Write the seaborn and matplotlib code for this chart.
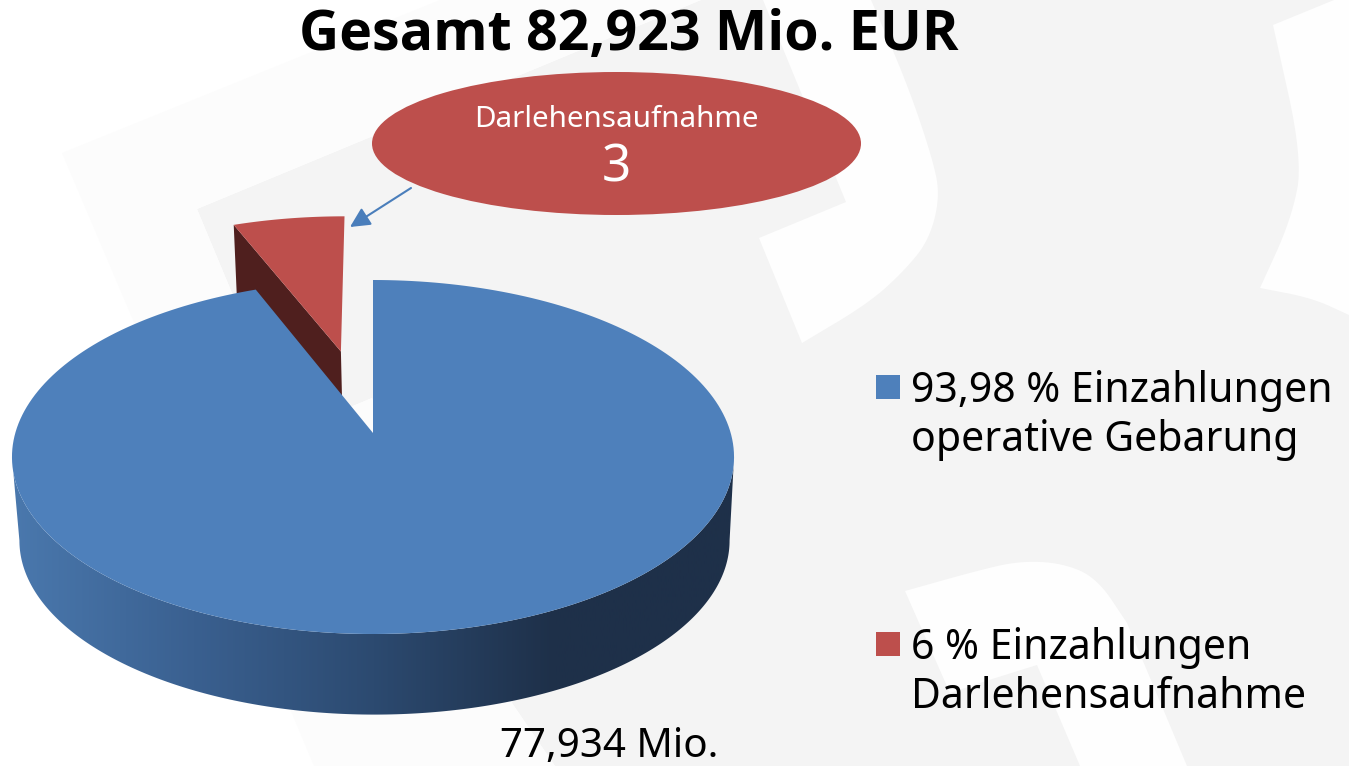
#!/usr/bin/env python
import matplotlib
matplotlib.use("Agg")
import matplotlib.pyplot as plt
import numpy as np
import seaborn as sns
from matplotlib.patches import Ellipse, Polygon, Rectangle

title = "Gesamt 82,923 Mio. EUR"
categories = ["93,98 % Einzahlungen\noperative Gebarung", "6 % Einzahlungen\nDarlehensaufnahme"]
values = [77.934, 4.989]
explode = [0, 0.51]
bottom_label = "77,934 Mio."
callout_name = "Darlehensaufnahme"
callout_value = "3"

# look of the tilted pie, in pixels
PERSP = 0.1356
TOP = dict(s=357.7, d=173.75, y0=433, cx=373)
BOTTOM = dict(s=351.8, d=170.8, y0=517, cx=374.5)

GRAY = "#f4f4f4"
BLUE = "#4e80bb"
RED = "#bd4f4c"
DARK_RED = "#4f1f1e"


def smooth(points, rounds=3):
    pts = np.asarray(points, dtype=float)
    for _ in range(rounds):
        q = 0.75 * pts[:-1] + 0.25 * pts[1:]
        r = 0.25 * pts[:-1] + 0.75 * pts[1:]
        mid = np.empty((len(q) * 2, 2))
        mid[0::2], mid[1::2] = q, r
        pts = np.r_[pts[:1], mid, pts[-1:]]
    return [tuple(p) for p in pts]


# watermark shapes behind the chart
PALE = [(62, 153), (440, 0), (701, 0), (197, 209), (232, 293), (290, 432), (372, 398), (512, 703),
        (555, 766), (314, 766), (293, 716), (133, 320)]
WHITE_LEFT = [(0, 0), (701, 0), (197, 209), (232, 293), (290, 432), (372, 398), (512, 703),
              (555, 766), (0, 766)]
WHITE_TOP = [(763, 0)] + smooth([(871, 0), (907, 83), (933, 160), (940, 197), (929, 240),
                                 (905, 270), (869, 303), (802, 343)]) + [(759, 238), (846, 202)]
WHITE_RIGHT = [(1334, 0)] + smooth([(1273, 25), (1303, 160), (1291, 220), (1260, 288)]) \
    + smooth([(1260, 288), (1312, 298), (1349, 315)]) + [(1349, 0)]
WHITE_BOTTOM = [(950, 693), (989, 680), (1037, 665), (1080, 766), (1187, 766)] \
    + smooth([(1127, 623), (1097, 578), (1062, 563), (1019, 561), (976, 571), (905, 591)])


def project(x, y, s, d, y0, cx):
    w = 1 + PERSP * np.asarray(y)
    return cx + s * np.asarray(x) / w, y0 - d * np.asarray(y) / w


def arc(center, theta1, theta2, n=240):
    t = np.radians(np.linspace(theta1, theta2, n))
    return center[0] + np.cos(t), center[1] + np.sin(t)


def wedge_outline(wedge, view):
    x, y = arc(wedge.center, wedge.theta1, wedge.theta2)
    x = np.r_[wedge.center[0], x]
    y = np.r_[wedge.center[1], y]
    return np.column_stack(project(x, y, **view))


sns.set_theme(style="white")
plt.rcParams["font.family"] = ["Noto Sans", "DejaVu Sans"]
side_cmap = sns.blend_palette(["#4a78ad", "#3a6090", "#2c4a70", "#1e3049", "#1e3049"], as_cmap=True)

fig = plt.figure(figsize=(13.49, 7.66), dpi=100)
ax = fig.add_axes([0, 0, 1, 1])

wedges, _ = ax.pie(values, explode=explode, startangle=90, counterclock=False, radius=1)
for w in wedges:
    w.set_visible(False)
blue_wedge, red_wedge = wedges

ax.set_aspect("auto")
ax.set_axis_off()

ax.add_patch(Rectangle((0, 0), 1349, 766, color=GRAY, lw=0, zorder=0))
ax.add_patch(Polygon(WHITE_LEFT, color="white", lw=0, zorder=0.1))
ax.add_patch(Polygon(PALE, color="#fcfcfc", lw=0, zorder=0.2))
for shape in (WHITE_TOP, WHITE_RIGHT, WHITE_BOTTOM):
    ax.add_patch(Polygon(shape, color="#fefefe", lw=0, zorder=0.1))

# red slice: inner cut face first, top on it
cx, cy = red_wedge.center
ox, oy = arc(red_wedge.center, red_wedge.theta2, red_wedge.theta2, n=1)
edge_x, edge_y = [cx, ox[0]], [cy, oy[0]]
face_top = np.column_stack(project(edge_x, edge_y, **TOP))
face_bottom = np.column_stack(project(edge_x, edge_y, **BOTTOM))
ax.add_patch(Polygon(np.r_[face_top, face_bottom[::-1]], color=DARK_RED, lw=0, zorder=2))
ax.add_patch(Polygon(wedge_outline(red_wedge, TOP), color=RED, lw=0, zorder=3))

# blue rim with the left-right shading
lim = np.degrees(np.arcsin(PERSP))
rim_x, rim_y = arc((0, 0), 180 + lim, 360 - lim)
rim = np.r_[np.column_stack(project(rim_x, rim_y, **TOP)),
            np.column_stack(project(rim_x, rim_y, **BOTTOM))[::-1]]
rim_patch = Polygon(rim, color="none", lw=0)
ax.add_patch(rim_patch)
shade = ax.imshow(np.linspace(0, 1, 256)[None, :], cmap=side_cmap, aspect="auto",
                  extent=(13, 735, 766, 0), zorder=4)
shade.set_clip_path(rim_patch)
ax.set_xlim(0, 1349)
ax.set_ylim(766, 0)

ax.add_patch(Polygon(wedge_outline(blue_wedge, TOP), color=BLUE, lw=0, zorder=5))

ax.text(629, 50, title, ha="center", va="baseline", fontsize=40, fontweight="bold", color="black",
        family="Open Sans", zorder=8)
ax.text(609, 757, bottom_label, ha="center", va="baseline", fontsize=29, color="black", zorder=8)

# callout
ax.add_patch(Ellipse((616.5, 143.5), 489, 143, color=RED, lw=0, zorder=6))
ax.text(616, 127, callout_name, ha="center", va="baseline", fontsize=21.3, color="white", zorder=8)
ax.text(616, 182, callout_value, ha="center", va="baseline", fontsize=37, color="white", zorder=8)
ax.annotate("", xy=(350, 227), xytext=(411, 188), zorder=7,
            arrowprops=dict(arrowstyle="-|>", color="#4a7ebb", lw=1.5, shrinkA=0, shrinkB=0,
                            mutation_scale=30))

# legend
for label, color, top in zip(categories, [BLUE, RED], [375, 632]):
    ax.add_patch(Rectangle((876, top), 24, 24, color=color, lw=0, zorder=6))
    ax.text(911, top + 76, label, ha="left", va="baseline", fontsize=29.5, color="black",
            linespacing=1.22, zorder=8)

fig.savefig("out.png", dpi=100)
